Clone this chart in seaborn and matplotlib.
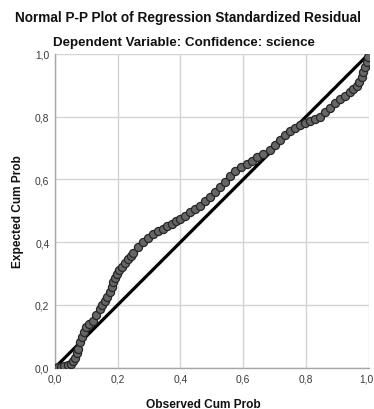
import matplotlib
matplotlib.use("Agg")
import matplotlib.pyplot as plt
from matplotlib.ticker import FuncFormatter
from matplotlib.transforms import ScaledTranslation
import seaborn as sns
import pandas as pd

# Observed vs. expected cumulative probabilities of the standardized residuals
observed_cum_prob = [
    0.000, 0.010, 0.020, 0.030, 0.040, 0.050, 0.058, 0.064, 0.069, 0.074,
    0.080, 0.085, 0.092, 0.100, 0.110, 0.122, 0.132, 0.143, 0.151, 0.159,
    0.167, 0.175, 0.181, 0.186, 0.192, 0.197, 0.205, 0.213, 0.224, 0.234,
    0.242, 0.250, 0.265, 0.281, 0.297, 0.313, 0.329, 0.345, 0.358, 0.372,
    0.385, 0.398, 0.414, 0.430, 0.446, 0.462, 0.478, 0.494, 0.510, 0.526,
    0.542, 0.558, 0.575, 0.592, 0.611, 0.627, 0.643, 0.664, 0.685, 0.701,
    0.717, 0.733, 0.749, 0.765, 0.781, 0.797, 0.813, 0.829, 0.845, 0.861,
    0.877, 0.893, 0.908, 0.924, 0.940, 0.951, 0.962, 0.970, 0.978, 0.983,
    0.988, 0.994, 0.999,
]
expected_cum_prob = [
    0.000, 0.002, 0.003, 0.005, 0.008, 0.013, 0.020, 0.030, 0.045, 0.060,
    0.080, 0.097, 0.112, 0.128, 0.138, 0.150, 0.168, 0.187, 0.200, 0.213,
    0.226, 0.240, 0.258, 0.272, 0.287, 0.298, 0.310, 0.320, 0.334, 0.346,
    0.356, 0.365, 0.383, 0.399, 0.413, 0.425, 0.434, 0.442, 0.450, 0.458,
    0.466, 0.474, 0.484, 0.495, 0.505, 0.515, 0.530, 0.545, 0.560, 0.575,
    0.592, 0.612, 0.628, 0.640, 0.648, 0.658, 0.670, 0.682, 0.694, 0.710,
    0.726, 0.742, 0.755, 0.765, 0.773, 0.780, 0.786, 0.793, 0.800, 0.815,
    0.828, 0.842, 0.855, 0.867, 0.878, 0.888, 0.898, 0.912, 0.925, 0.942,
    0.958, 0.975, 0.990,
]
reference_line = [0.0, 1.0]
tick_values = [0.0, 0.2, 0.4, 0.6, 0.8, 1.0]

title_main = "Normal P-P Plot of Regression Standardized Residual"
title_sub = "Dependent Variable: Confidence: science"
x_label = "Observed Cum Prob"
y_label = "Expected Cum Prob"

sns.set_theme(style="white")
plt.rcParams["font.family"] = ["Liberation Sans", "DejaVu Sans"]

df = pd.DataFrame({"observed": observed_cum_prob, "expected": expected_cum_prob})

fig = plt.figure(figsize=(3.74, 4.10), dpi=100)
ax = fig.add_axes([0.147, 0.101, 0.839, 0.765])

ax.grid(True, color="#d4d4d4", linewidth=1.0)
ax.set_axisbelow(True)

# diagonal of a perfectly normal distribution
sns.lineplot(x=reference_line, y=reference_line, ax=ax, color="black",
             linewidth=2.3, zorder=2)
sns.scatterplot(data=df, x="observed", y="expected", ax=ax, s=34,
                color="#666666", edgecolor="#262626", linewidth=0.9,
                zorder=3)

ax.set_xlim(0, 1)
ax.set_ylim(0, 1)
ax.set_xticks(tick_values)
ax.set_yticks(tick_values)
fmt = FuncFormatter(lambda v, _: f"{v:.1f}".replace(".", ","))
ax.xaxis.set_major_formatter(fmt)
ax.yaxis.set_major_formatter(fmt)
ax.tick_params(axis="both", length=0, labelsize=7.4, labelcolor="#3a3a3a",
               pad=4)

# keep the last x tick label inside the figure edge
fig.canvas.draw()
last_label = ax.get_xticklabels()[-1]
last_label.set_horizontalalignment("right")
last_label.set_transform(last_label.get_transform()
                         + ScaledTranslation(5 / 100, 0, fig.dpi_scale_trans))

for side in ("top", "right"):
    ax.spines[side].set_visible(False)
for side in ("left", "bottom"):
    ax.spines[side].set_color("#a6a6a6")
    ax.spines[side].set_linewidth(1.0)

ax.set_xlabel(x_label, fontsize=8.6, fontweight="bold", color="#111111")
ax.set_ylabel(y_label, fontsize=8.6, fontweight="bold", color="#111111")
ax.xaxis.set_label_coords(0.472, -0.098)
ax.yaxis.set_label_coords(-0.099, 0.5)

fig.text(0.502, 0.957, title_main, ha="center", va="center", fontsize=9.8,
         fontweight="bold", color="#111111")
fig.text(0.492, 0.895, title_sub, ha="center", va="center", fontsize=9.6,
         fontweight="bold", color="#111111")

fig.savefig("out.png", dpi=100)
